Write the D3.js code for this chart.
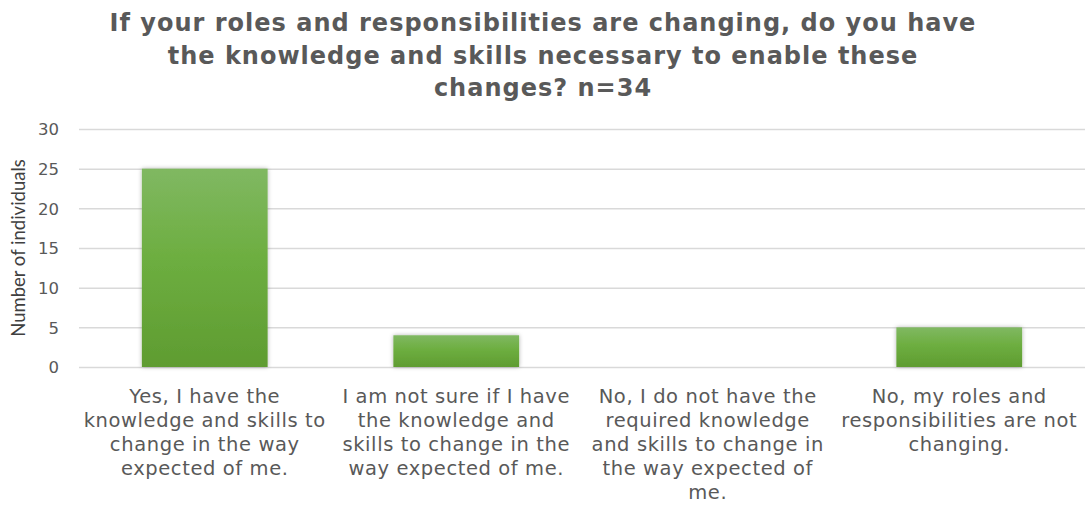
<!DOCTYPE html>
<html>
<head>
<meta charset="utf-8">
<script src="https://cdn.jsdelivr.net/npm/d3@7"></script>
<style>
  body { margin: 0; background: #fff; }
  .title { font-family: 'DejaVu Sans', Verdana, sans-serif; font-weight: bold; fill: #595959; font-size: 24px; letter-spacing: 1px; }
  .tick text { font-family: 'DejaVu Sans', Verdana, sans-serif; font-size: 16.5px; fill: #595959; }
  .cat { font-family: 'DejaVu Sans', Verdana, sans-serif; font-size: 19.5px; letter-spacing: 0.6px; fill: #595959; }
  .ylabel { font-family: Lato, 'Open Sans', sans-serif; font-size: 18.5px; fill: #404040; }
  .grid line { stroke: #d9d9d9; stroke-width: 1.5; }
</style>
</head>
<body>
<div id="chart"></div>
<script>
let titleLines = [
  'If your roles and responsibilities are changing, do you have',
  'the knowledge and skills necessary to enable these',
  'changes? n=34'
]

let categories = [
  ['Yes, I have the', 'knowledge and skills to', 'change in the way', 'expected of me.'],
  ['I am not sure if I have', 'the knowledge and', 'skills to change in the', 'way expected of me.'],
  ['No, I do not have the', 'required knowledge', 'and skills to change in', 'the way expected of', 'me.'],
  ['No, my roles and', 'responsibilities are not', 'changing.']
]

let values = [25, 4, 0, 5]

let yTicks = [0, 5, 10, 15, 20, 25, 30]

let yTitle = 'Number of individuals'

let width = 1088, height = 505
let margin = { left: 79, right: 3, top: 129, bottom: 138 }

let svg = d3.select('#chart')
.append('svg')
.attr('width', width)
.attr('height', height)

let defs = svg.append('defs')

let grad = defs.append('linearGradient')
.attr('id', 'barGrad')
.attr('x1', 0).attr('y1', 0)
.attr('x2', 0).attr('y2', 1)
grad.append('stop').attr('offset', '0%').attr('stop-color', '#80b862')
grad.append('stop').attr('offset', '45%').attr('stop-color', '#6dae40')
grad.append('stop').attr('offset', '100%').attr('stop-color', '#5f9c31')

let shadow = defs.append('filter')
.attr('id', 'shadow')
.attr('x', '-20%').attr('y', '-20%')
.attr('width', '140%').attr('height', '140%')
shadow.append('feDropShadow')
.attr('dx', 0).attr('dy', 0)
.attr('stdDeviation', 2)
.attr('flood-color', '#000')
.attr('flood-opacity', 0.3)

let x = d3.scaleBand()
.domain(d3.range(categories.length))
.range([margin.left, width - margin.right])
.paddingInner(0.5)
.paddingOuter(0.25)

let y = d3.scaleLinear()
.domain([0, 30])
.range([height - margin.bottom, margin.top])

// title
svg.append('text')
.attr('class', 'title')
.attr('text-anchor', 'middle')
.selectAll('tspan')
.data(titleLines)
.join('tspan')
.attr('x', 543)
.attr('y', (d, i) => 31 + i * 32.5)
.text(d => d)

// gridlines
svg.append('g')
.attr('class', 'grid')
.attr('transform', `translate(${margin.left}, 0)`)
.call(d3.axisLeft(y).tickValues(yTicks).tickSize(-(width - margin.left - margin.right)).tickFormat(''))
.call(g => g.select('.domain').remove())

// y axis labels
svg.append('g')
.attr('transform', `translate(${margin.left - 17}, 0)`)
.call(d3.axisLeft(y).tickValues(yTicks).tickSize(0))
.call(g => g.select('.domain').remove())
.call(g => g.selectAll('.tick text').attr('dy', '0.35em'))

// y axis title
svg.append('text')
.attr('class', 'ylabel')
.attr('transform', `translate(25, ${y(15)}) rotate(-90)`)
.attr('text-anchor', 'middle')
.text(yTitle)

// bars
svg.selectAll('.bar')
.data(values)
.join('rect')
.attr('class', 'bar')
.attr('x', (d, i) => x(i))
.attr('y', d => y(d))
.attr('width', x.bandwidth())
.attr('height', d => y(0) - y(d))
.attr('fill', 'url(#barGrad)')
.attr('filter', 'url(#shadow)')
.style('display', d => d > 0 ? null : 'none')

// category labels
svg.selectAll('.cat')
.data(categories)
.join('text')
.attr('class', 'cat')
.attr('text-anchor', 'middle')
.selectAll('tspan')
.data((d, i) => d.map(line => ({ line, i })))
.join('tspan')
.attr('x', d => x(d.i) + x.bandwidth() / 2)
.attr('y', (d, j) => 403 + j * 24)
.text(d => d.line)
</script>
</body>
</html>
